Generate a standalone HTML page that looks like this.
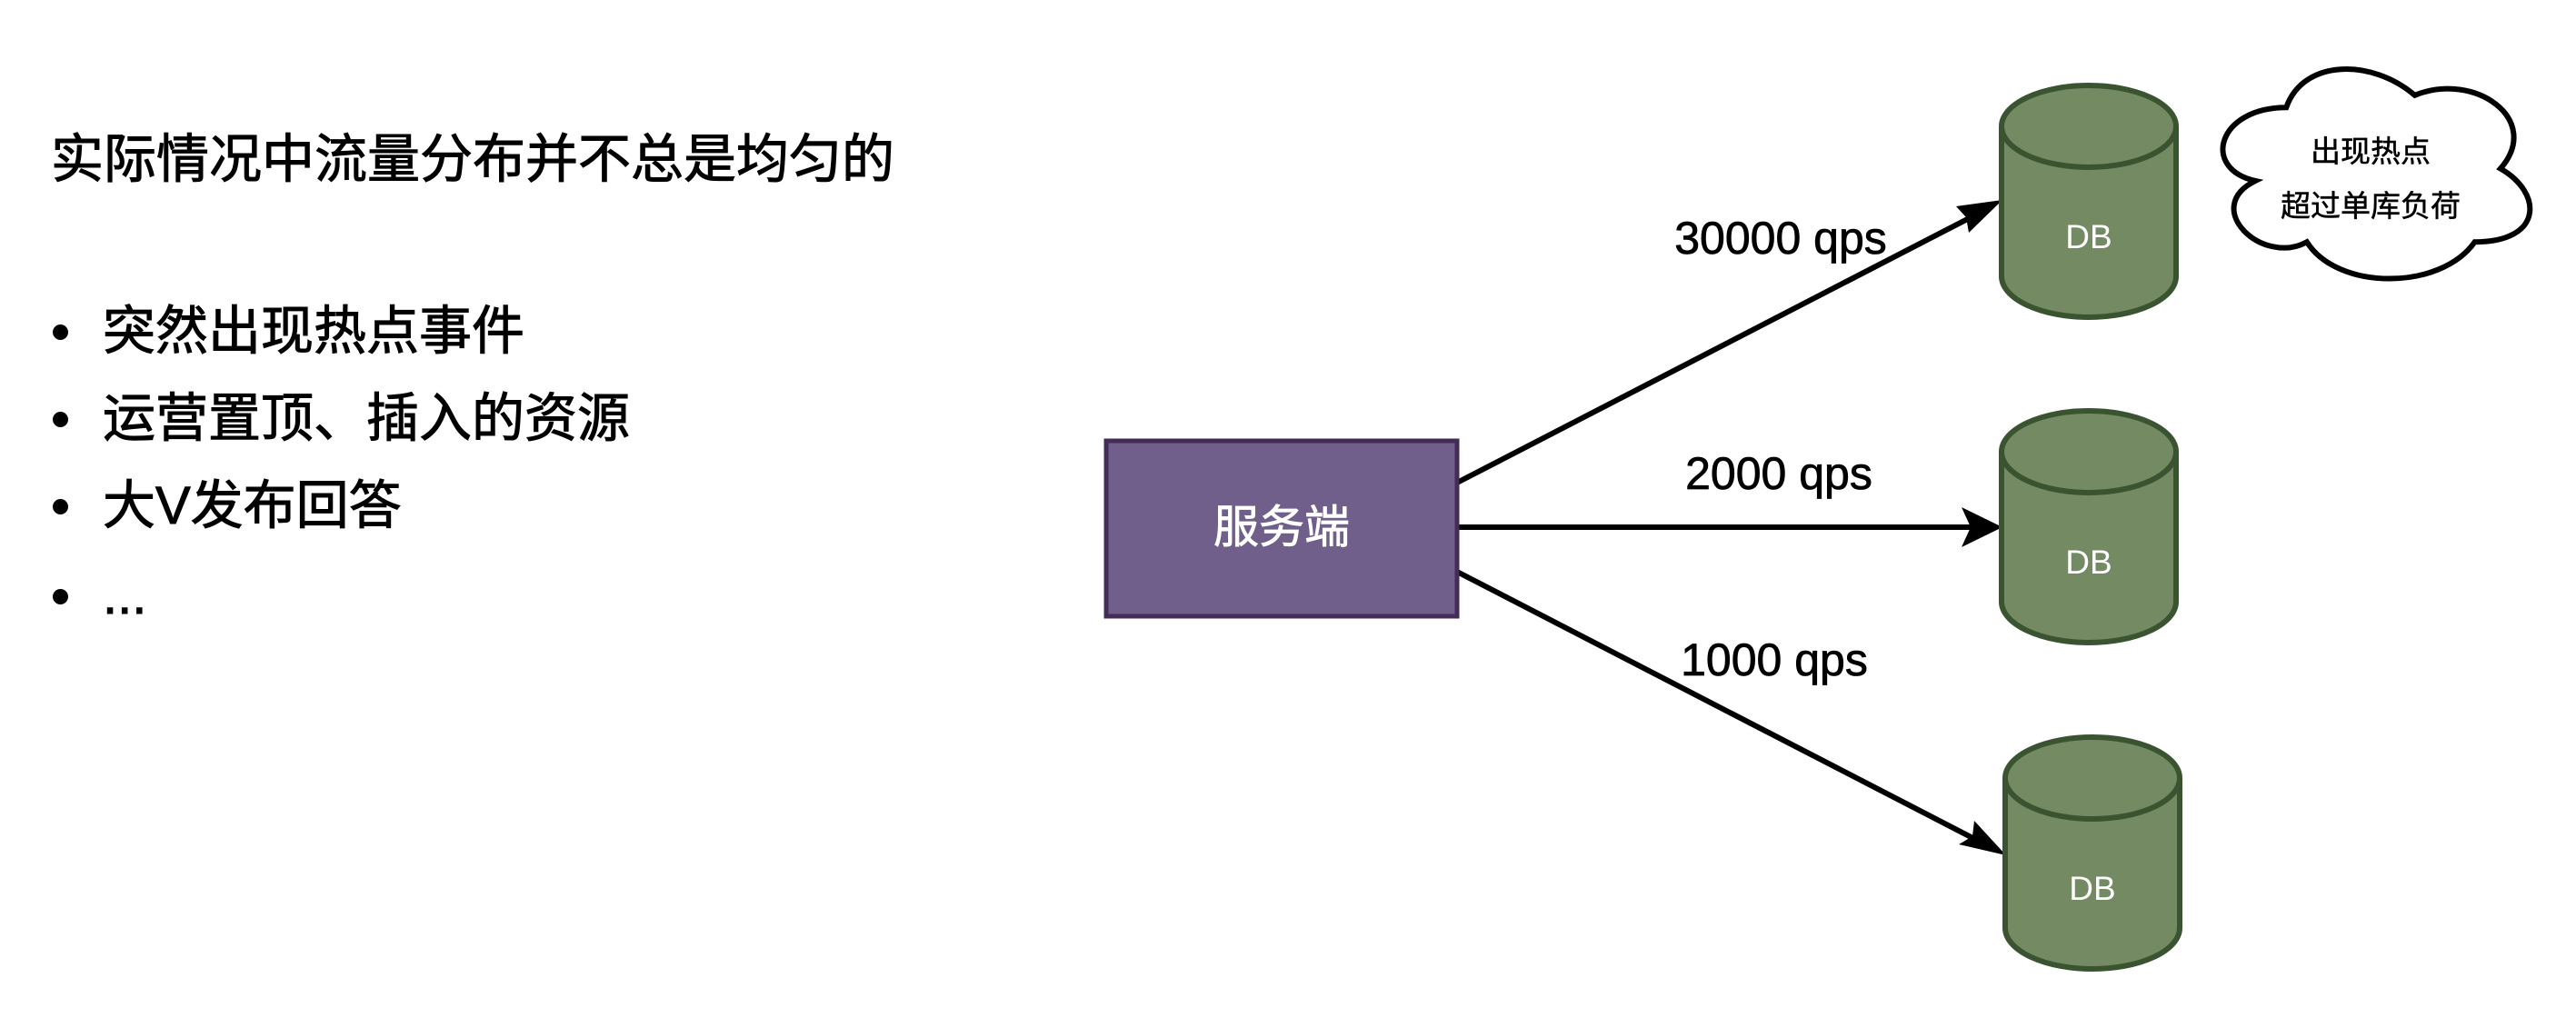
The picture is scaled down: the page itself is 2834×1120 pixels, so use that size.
<!DOCTYPE html>
<html><head><meta charset="utf-8">
<style>
html,body{margin:0;padding:0;background:#fff;}
body{width:2834px;height:1120px;position:relative;overflow:hidden;font-family:"Liberation Sans","Noto Sans CJK SC",sans-serif;}
.t{position:absolute;left:56px;top:128px;font-size:58px;color:#000;white-space:nowrap;-webkit-text-stroke:1px #000;}
.b{position:absolute;left:113px;font-size:58px;color:#000;white-space:nowrap;line-height:76px;-webkit-text-stroke:1px #000;}
.d{position:absolute;left:58px;width:17px;height:17px;border-radius:50%;background:#000;}
</style></head><body>
<div class="t">实际情况中流量分布并不总是均匀的</div>
<div class="d" style="top:357px"></div><div class="b" style="top:327px">突然出现热点事件</div>
<div class="d" style="top:453px"></div><div class="b" style="top:423px">运营置顶、插入的资源</div>
<div class="d" style="top:549px"></div><div class="b" style="top:519px">大V发布回答</div>
<div class="d" style="top:648px"></div><div class="b" style="top:618px">...</div>
<svg width="2834" height="1120" style="position:absolute;left:0;top:0" xmlns="http://www.w3.org/2000/svg">
<g stroke="#000" stroke-width="6" fill="none">
<line x1="1603" y1="531" x2="2180" y2="233"/>
<line x1="1603" y1="580" x2="2180" y2="580"/>
<line x1="1603" y1="629" x2="2184" y2="929"/>
</g>
<g fill="#000">
<path d="M2203,220 L2152,227 L2163,239 L2166,256 Z"/>
<path d="M2203,580 L2158,558 L2168,580 L2158,602 Z"/>
<path d="M2207,941 L2172,903 L2170,920 L2155,929 Z"/>
</g>
<rect x="1217" y="485" width="386" height="193" fill="#6f5f8a" stroke="#432d57" stroke-width="5"/>
<text x="1410" y="597" fill="#fff" font-size="50" text-anchor="middle" stroke="#fff" stroke-width="0.8" font-family="Liberation Sans,Noto Sans CJK SC,sans-serif">服务端</text>
<g font-size="50" text-anchor="middle" fill="#000" stroke="#000" stroke-width="0.8" font-family="Liberation Sans,sans-serif">
<text x="1959" y="279">30000 qps</text>
<text x="1957" y="538">2000 qps</text>
<text x="1952" y="743">1000 qps</text>
</g>
<g fill="#738a63" stroke="#3a5431" stroke-width="6">
<path d="M2202,139 a96,45 0 0 1 192,0 v165 a96,45 0 0 1 -192,0 Z"/><path d="M2202,139 a96,45 0 0 0 192,0" fill="none"/>
<path d="M2202,497 a96,45 0 0 1 192,0 v165 a96,45 0 0 1 -192,0 Z"/><path d="M2202,497 a96,45 0 0 0 192,0" fill="none"/>
<path d="M2206,856 a96,45 0 0 1 192,0 v165 a96,45 0 0 1 -192,0 Z"/><path d="M2206,856 a96,45 0 0 0 192,0" fill="none"/>
</g>
<g font-size="37" fill="#fff" text-anchor="middle" font-family="Liberation Sans,sans-serif">
<text x="2298" y="273">DB</text>
<text x="2298" y="631">DB</text>
<text x="2302" y="990">DB</text>
</g>
<path transform="translate(2421,51) scale(377,269)" vector-effect="non-scaling-stroke" stroke="#000" stroke-width="6" fill="#fff"
d="M0.25,0.25 C0.05,0.25 0,0.5 0.16,0.55 C0,0.66 0.18,0.9 0.31,0.8 C0.4,1 0.7,1 0.8,0.8 C1,0.8 1,0.6 0.875,0.5 C1,0.3 0.8,0.1 0.625,0.2 C0.5,0.05 0.3,0.05 0.25,0.25 Z"/>
<g font-size="33" fill="#000" text-anchor="middle" stroke="#000" stroke-width="0.5" font-family="Liberation Sans,Noto Sans CJK SC,sans-serif">
<text x="2608" y="178">出现热点</text>
<text x="2608" y="238">超过单库负荷</text>
</g>
</svg>
</body></html>
